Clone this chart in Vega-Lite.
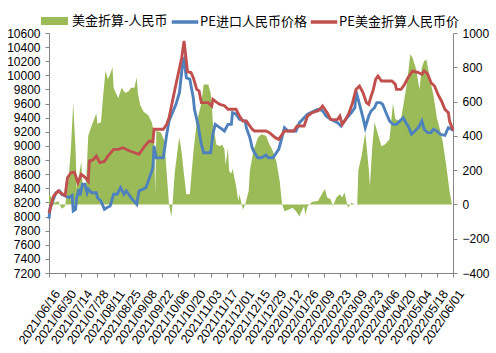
{
"$schema":"https://vega.github.io/schema/vega-lite/v6.json",
"width":404,"height":240,
"autosize":{"type":"none"},
"padding":{"left":49,"top":33,"right":43,"bottom":80},
"background":"white",
"config":{"view":{"stroke":null},"axis":{"grid":false,"domainColor":"#868686","tickColor":"#868686","labelColor":"#000000","labelFont":"Liberation Sans","labelFontSize":12,"tickSize":4,"title":null},"legend":{"labelFont":"Noto Sans CJK SC","labelFontSize":13,"labelColor":"#000000","padding":0,"title":null}},
"datasets":{
"g":[
{"s":"美金折算-人民币","d":"2021-06-16","v":60},{"s":"美金折算-人民币","d":"2021-06-18","v":40},{"s":"美金折算-人民币","d":"2021-06-21","v":10},{"s":"美金折算-人民币","d":"2021-06-24","v":20},{"s":"美金折算-人民币","d":"2021-06-27","v":-25},{"s":"美金折算-人民币","d":"2021-06-30","v":-10},{"s":"美金折算-人民币","d":"2021-07-01","v":50},{"s":"美金折算-人民币","d":"2021-07-03","v":150},{"s":"美金折算-人民币","d":"2021-07-05","v":330},{"s":"美金折算-人民币","d":"2021-07-07","v":590},{"s":"美金折算-人民币","d":"2021-07-09","v":320},{"s":"美金折算-人民币","d":"2021-07-10","v":90},{"s":"美金折算-人民币","d":"2021-07-12","v":170},{"s":"美金折算-人民币","d":"2021-07-14","v":250},{"s":"美金折算-人民币","d":"2021-07-15","v":120},{"s":"美金折算-人民币","d":"2021-07-18","v":100},{"s":"美金折算-人民币","d":"2021-07-20","v":400},{"s":"美金折算-人民币","d":"2021-07-23","v":460},{"s":"美金折算-人民币","d":"2021-07-27","v":530},{"s":"美金折算-人民币","d":"2021-07-28","v":470},{"s":"美金折算-人民币","d":"2021-07-31","v":480},{"s":"美金折算-人民币","d":"2021-08-02","v":640},{"s":"美金折算-人民币","d":"2021-08-04","v":780},{"s":"美金折算-人民币","d":"2021-08-06","v":730},{"s":"美金折算-人民币","d":"2021-08-08","v":760},{"s":"美金折算-人民币","d":"2021-08-10","v":800},{"s":"美金折算-人民币","d":"2021-08-11","v":680},{"s":"美金折算-人民币","d":"2021-08-15","v":620},{"s":"美金折算-人民币","d":"2021-08-18","v":680},{"s":"美金折算-人民币","d":"2021-08-21","v":650},{"s":"美金折算-人民币","d":"2021-08-24","v":660},{"s":"美金折算-人民币","d":"2021-08-26","v":680},{"s":"美金折算-人民币","d":"2021-08-29","v":680},{"s":"美金折算-人民币","d":"2021-08-31","v":740},{"s":"美金折算-人民币","d":"2021-09-01","v":650},{"s":"美金折算-人民币","d":"2021-09-03","v":580},{"s":"美金折算-人民币","d":"2021-09-06","v":540},{"s":"美金折算-人民币","d":"2021-09-10","v":520},{"s":"美金折算-人民币","d":"2021-09-13","v":480},{"s":"美金折算-人民币","d":"2021-09-15","v":420},{"s":"美金折算-人民币","d":"2021-09-16","v":60},{"s":"美金折算-人民币","d":"2021-09-17","v":430},{"s":"美金折算-人民币","d":"2021-09-21","v":420},{"s":"美金折算-人民币","d":"2021-09-24","v":370},{"s":"美金折算-人民币","d":"2021-09-26","v":180},{"s":"美金折算-人民币","d":"2021-09-28","v":0},{"s":"美金折算-人民币","d":"2021-09-30","v":-70},{"s":"美金折算-人民币","d":"2021-10-01","v":0},{"s":"美金折算-人民币","d":"2021-10-03","v":190},{"s":"美金折算-人民币","d":"2021-10-06","v":350},{"s":"美金折算-人民币","d":"2021-10-07","v":390},{"s":"美金折算-人民币","d":"2021-10-09","v":300},{"s":"美金折算-人民币","d":"2021-10-11","v":170},{"s":"美金折算-人民币","d":"2021-10-13","v":60},{"s":"美金折算-人民币","d":"2021-10-16","v":60},{"s":"美金折算-人民币","d":"2021-10-19","v":300},{"s":"美金折算-人民币","d":"2021-10-22","v":480},{"s":"美金折算-人民币","d":"2021-10-26","v":590},{"s":"美金折算-人民币","d":"2021-10-28","v":700},{"s":"美金折算-人民币","d":"2021-11-01","v":700},{"s":"美金折算-人民币","d":"2021-11-03","v":650},{"s":"美金折算-人民币","d":"2021-11-04","v":590},{"s":"美金折算-人民币","d":"2021-11-05","v":470},{"s":"美金折算-人民币","d":"2021-11-08","v":350},{"s":"美金折算-人民币","d":"2021-11-11","v":340},{"s":"美金折算-人民币","d":"2021-11-13","v":350},{"s":"美金折算-人民币","d":"2021-11-15","v":320},{"s":"美金折算-人民币","d":"2021-11-16","v":230},{"s":"美金折算-人民币","d":"2021-11-18","v":330},{"s":"美金折算-人民币","d":"2021-11-19","v":195},{"s":"美金折算-人民币","d":"2021-11-21","v":180},{"s":"美金折算-人民币","d":"2021-11-22","v":210},{"s":"美金折算-人民币","d":"2021-11-25","v":110},{"s":"美金折算-人民币","d":"2021-11-27","v":20},{"s":"美金折算-人民币","d":"2021-11-28","v":60},{"s":"美金折算-人民币","d":"2021-11-30","v":0},{"s":"美金折算-人民币","d":"2021-12-01","v":-30},{"s":"美金折算-人民币","d":"2021-12-03","v":0},{"s":"美金折算-人民币","d":"2021-12-06","v":80},{"s":"美金折算-人民币","d":"2021-12-07","v":195},{"s":"美金折算-人民币","d":"2021-12-10","v":310},{"s":"美金折算-人民币","d":"2021-12-14","v":390},{"s":"美金折算-人民币","d":"2021-12-17","v":410},{"s":"美金折算-人民币","d":"2021-12-21","v":400},{"s":"美金折算-人民币","d":"2021-12-24","v":350},{"s":"美金折算-人民币","d":"2021-12-27","v":310},{"s":"美金折算-人民币","d":"2021-12-30","v":250},{"s":"美金折算-人民币","d":"2022-01-02","v":130},{"s":"美金折算-人民币","d":"2022-01-03","v":60},{"s":"美金折算-人民币","d":"2022-01-04","v":0},{"s":"美金折算-人民币","d":"2022-01-06","v":-40},{"s":"美金折算-人民币","d":"2022-01-10","v":-30},{"s":"美金折算-人民币","d":"2022-01-13","v":-20},{"s":"美金折算-人民币","d":"2022-01-16","v":-40},{"s":"美金折算-人民币","d":"2022-01-19","v":-70},{"s":"美金折算-人民币","d":"2022-01-20","v":-50},{"s":"美金折算-人民币","d":"2022-01-23","v":-10},{"s":"美金折算-人民币","d":"2022-01-24","v":-60},{"s":"美金折算-人民币","d":"2022-01-26","v":-10},{"s":"美金折算-人民币","d":"2022-01-30","v":15},{"s":"美金折算-人民币","d":"2022-02-04","v":20},{"s":"美金折算-人民币","d":"2022-02-10","v":90},{"s":"美金折算-人民币","d":"2022-02-12","v":40},{"s":"美金折算-人民币","d":"2022-02-15","v":30},{"s":"美金折算-人民币","d":"2022-02-17","v":-10},{"s":"美金折算-人民币","d":"2022-02-20","v":40},{"s":"美金折算-人民币","d":"2022-02-23","v":60},{"s":"美金折算-人民币","d":"2022-02-25","v":40},{"s":"美金折算-人民币","d":"2022-02-27","v":70},{"s":"美金折算-人民币","d":"2022-03-02","v":-20},{"s":"美金折算-人民币","d":"2022-03-05","v":10},{"s":"美金折算-人民币","d":"2022-03-08","v":0},{"s":"美金折算-人民币","d":"2022-03-10","v":0},{"s":"美金折算-人民币","d":"2022-03-11","v":200},{"s":"美金折算-人民币","d":"2022-03-14","v":290},{"s":"美金折算-人民币","d":"2022-03-17","v":420},{"s":"美金折算-人民币","d":"2022-03-20","v":210},{"s":"美金折算-人民币","d":"2022-03-21","v":107},{"s":"美金折算-人民币","d":"2022-03-23","v":330},{"s":"美金折算-人民币","d":"2022-03-25","v":480},{"s":"美金折算-人民币","d":"2022-03-28","v":410},{"s":"美金折算-人民币","d":"2022-03-31","v":340},{"s":"美金折算-人民币","d":"2022-04-03","v":350},{"s":"美金折算-人民币","d":"2022-04-07","v":380},{"s":"美金折算-人民币","d":"2022-04-10","v":590},{"s":"美金折算-人民币","d":"2022-04-12","v":500},{"s":"美金折算-人民币","d":"2022-04-14","v":490},{"s":"美金折算-人民币","d":"2022-04-17","v":500},{"s":"美金折算-人民币","d":"2022-04-20","v":620},{"s":"美金折算-人民币","d":"2022-04-22","v":700},{"s":"美金折算-人民币","d":"2022-04-25","v":876},{"s":"美金折算-人民币","d":"2022-04-27","v":856},{"s":"美金折算-人民币","d":"2022-04-30","v":790},{"s":"美金折算-人民币","d":"2022-05-03","v":670},{"s":"美金折算-人民币","d":"2022-05-05","v":800},{"s":"美金折算-人民币","d":"2022-05-07","v":837},{"s":"美金折算-人民币","d":"2022-05-09","v":845},{"s":"美金折算-人民币","d":"2022-05-12","v":730},{"s":"美金折算-人民币","d":"2022-05-15","v":640},{"s":"美金折算-人民币","d":"2022-05-18","v":506},{"s":"美金折算-人民币","d":"2022-05-21","v":428},{"s":"美金折算-人民币","d":"2022-05-23","v":370},{"s":"美金折算-人民币","d":"2022-05-26","v":234},{"s":"美金折算-人民币","d":"2022-05-29","v":78},{"s":"美金折算-人民币","d":"2022-05-31","v":0}
],
"l":[
{"s":"PE进口人民币价格","d":"2021-06-16","v":7970},{"s":"PE进口人民币价格","d":"2021-06-17","v":8125},{"s":"PE进口人民币价格","d":"2021-06-22","v":8337},{"s":"PE进口人民币价格","d":"2021-06-25","v":8362},{"s":"PE进口人民币价格","d":"2021-06-27","v":8315},{"s":"PE进口人民币价格","d":"2021-06-30","v":8290},{"s":"PE进口人民币价格","d":"2021-07-03","v":8267},{"s":"PE进口人民币价格","d":"2021-07-06","v":8300},{"s":"PE进口人民币价格","d":"2021-07-07","v":8078},{"s":"PE进口人民币价格","d":"2021-07-09","v":8100},{"s":"PE进口人民币价格","d":"2021-07-10","v":8267},{"s":"PE进口人民币价格","d":"2021-07-12","v":8390},{"s":"PE进口人民币价格","d":"2021-07-13","v":8300},{"s":"PE进口人民币价格","d":"2021-07-15","v":8457},{"s":"PE进口人民币价格","d":"2021-07-17","v":8457},{"s":"PE进口人民币价格","d":"2021-07-19","v":8337},{"s":"PE进口人民币价格","d":"2021-07-20","v":8390},{"s":"PE进口人民币价格","d":"2021-07-23","v":8337},{"s":"PE进口人民币价格","d":"2021-07-27","v":8337},{"s":"PE进口人民币价格","d":"2021-07-28","v":8267},{"s":"PE进口人民币价格","d":"2021-07-31","v":8220},{"s":"PE进口人民币价格","d":"2021-08-03","v":8102},{"s":"PE进口人民币价格","d":"2021-08-05","v":8125},{"s":"PE进口人民币价格","d":"2021-08-08","v":8150},{"s":"PE进口人民币价格","d":"2021-08-11","v":8315},{"s":"PE进口人民币价格","d":"2021-08-14","v":8315},{"s":"PE进口人民币价格","d":"2021-08-17","v":8408},{"s":"PE进口人民币价格","d":"2021-08-20","v":8315},{"s":"PE进口人民币价格","d":"2021-08-22","v":8362},{"s":"PE进口人民币价格","d":"2021-08-26","v":8267},{"s":"PE进口人民币价格","d":"2021-08-31","v":8173},{"s":"PE进口人民币价格","d":"2021-09-02","v":8362},{"s":"PE进口人民币价格","d":"2021-09-08","v":8408},{"s":"PE进口人民币价格","d":"2021-09-11","v":8550},{"s":"PE进口人民币价格","d":"2021-09-14","v":8692},{"s":"PE进口人民币价格","d":"2021-09-15","v":9000},{"s":"PE进口人民币价格","d":"2021-09-17","v":8833},{"s":"PE进口人民币价格","d":"2021-09-23","v":8833},{"s":"PE进口人民币价格","d":"2021-09-26","v":9165},{"s":"PE进口人民币价格","d":"2021-09-28","v":9353},{"s":"PE进口人民币价格","d":"2021-10-04","v":9590},{"s":"PE进口人民币价格","d":"2021-10-07","v":9755},{"s":"PE进口人民币价格","d":"2021-10-10","v":10203},{"s":"PE进口人民币价格","d":"2021-10-11","v":10230},{"s":"PE进口人民币价格","d":"2021-10-13","v":9967},{"s":"PE进口人民币价格","d":"2021-10-16","v":9944},{"s":"PE进口人民币价格","d":"2021-10-19","v":9684},{"s":"PE进口人民币价格","d":"2021-10-20","v":9519},{"s":"PE进口人民币价格","d":"2021-10-23","v":9306},{"s":"PE进口人民币价格","d":"2021-10-26","v":9023},{"s":"PE进口人民币价格","d":"2021-10-28","v":8904},{"s":"PE进口人民币价格","d":"2021-11-03","v":8904},{"s":"PE进口人民币价格","d":"2021-11-05","v":9165},{"s":"PE进口人民币价格","d":"2021-11-07","v":9306},{"s":"PE进口人民币价格","d":"2021-11-11","v":9259},{"s":"PE进口人民币价格","d":"2021-11-15","v":9212},{"s":"PE进口人民币价格","d":"2021-11-18","v":9306},{"s":"PE进口人民币价格","d":"2021-11-21","v":9306},{"s":"PE进口人民币价格","d":"2021-11-22","v":9471},{"s":"PE进口人民币价格","d":"2021-11-25","v":9450},{"s":"PE进口人民币价格","d":"2021-11-28","v":9377},{"s":"PE进口人民币价格","d":"2021-12-03","v":9350},{"s":"PE进口人民币价格","d":"2021-12-04","v":9259},{"s":"PE进口人民币价格","d":"2021-12-07","v":9117},{"s":"PE进口人民币价格","d":"2021-12-09","v":8975},{"s":"PE进口人民币价格","d":"2021-12-11","v":8904},{"s":"PE进口人民币价格","d":"2021-12-14","v":8833},{"s":"PE进口人民币价格","d":"2021-12-17","v":8833},{"s":"PE进口人民币价格","d":"2021-12-21","v":8870},{"s":"PE进口人民币价格","d":"2021-12-23","v":8833},{"s":"PE进口人民币价格","d":"2021-12-27","v":8833},{"s":"PE进口人民币价格","d":"2022-01-01","v":8952},{"s":"PE进口人民币价格","d":"2022-01-03","v":9070},{"s":"PE进口人民币价格","d":"2022-01-06","v":9259},{"s":"PE进口人民币价格","d":"2022-01-09","v":9212},{"s":"PE进口人民币价格","d":"2022-01-16","v":9212},{"s":"PE进口人民币价格","d":"2022-01-19","v":9330},{"s":"PE进口人民币价格","d":"2022-01-26","v":9448},{"s":"PE进口人民币价格","d":"2022-02-04","v":9519},{"s":"PE进口人民币价格","d":"2022-02-08","v":9500},{"s":"PE进口人民币价格","d":"2022-02-11","v":9424},{"s":"PE进口人民币价格","d":"2022-02-15","v":9377},{"s":"PE进口人民币价格","d":"2022-02-21","v":9330},{"s":"PE进口人民币价格","d":"2022-02-24","v":9283},{"s":"PE进口人民币价格","d":"2022-02-28","v":9377},{"s":"PE进口人民币价格","d":"2022-03-05","v":9471},{"s":"PE进口人民币价格","d":"2022-03-08","v":9542},{"s":"PE进口人民币价格","d":"2022-03-09","v":9778},{"s":"PE进口人民币价格","d":"2022-03-12","v":9590},{"s":"PE进口人民币价格","d":"2022-03-15","v":9400},{"s":"PE进口人民币价格","d":"2022-03-17","v":9259},{"s":"PE进口人民币价格","d":"2022-03-20","v":9424},{"s":"PE进口人民币价格","d":"2022-03-22","v":9495},{"s":"PE进口人民币价格","d":"2022-03-25","v":9542},{"s":"PE进口人民币价格","d":"2022-03-27","v":9613},{"s":"PE进口人民币价格","d":"2022-03-30","v":9613},{"s":"PE进口人民币价格","d":"2022-04-01","v":9590},{"s":"PE进口人民币价格","d":"2022-04-04","v":9471},{"s":"PE进口人民币价格","d":"2022-04-07","v":9353},{"s":"PE进口人民币价格","d":"2022-04-10","v":9306},{"s":"PE进口人民币价格","d":"2022-04-13","v":9306},{"s":"PE进口人民币价格","d":"2022-04-16","v":9353},{"s":"PE进口人民币价格","d":"2022-04-19","v":9400},{"s":"PE进口人民币价格","d":"2022-04-22","v":9306},{"s":"PE进口人民币价格","d":"2022-04-23","v":9290},{"s":"PE进口人民币价格","d":"2022-04-26","v":9165},{"s":"PE进口人民币价格","d":"2022-04-29","v":9212},{"s":"PE进口人民币价格","d":"2022-05-02","v":9259},{"s":"PE进口人民币价格","d":"2022-05-05","v":9353},{"s":"PE进口人民币价格","d":"2022-05-07","v":9236},{"s":"PE进口人民币价格","d":"2022-05-10","v":9188},{"s":"PE进口人民币价格","d":"2022-05-13","v":9188},{"s":"PE进口人民币价格","d":"2022-05-15","v":9236},{"s":"PE进口人民币价格","d":"2022-05-18","v":9212},{"s":"PE进口人民币价格","d":"2022-05-21","v":9165},{"s":"PE进口人民币价格","d":"2022-05-25","v":9150},{"s":"PE进口人民币价格","d":"2022-05-28","v":9259},{"s":"PE进口人民币价格","d":"2022-05-31","v":9236},{"s":"PE进口人民币价格","d":"2022-06-01","v":9212},
{"s":"PE美金折算人民币价","d":"2021-06-16","v":8050},{"s":"PE美金折算人民币价","d":"2021-06-20","v":8290},{"s":"PE美金折算人民币价","d":"2021-06-24","v":8362},{"s":"PE美金折算人民币价","d":"2021-06-28","v":8315},{"s":"PE美金折算人民币价","d":"2021-06-30","v":8300},{"s":"PE美金折算人民币价","d":"2021-07-02","v":8550},{"s":"PE美金折算人民币价","d":"2021-07-05","v":8621},{"s":"PE美金折算人民币价","d":"2021-07-08","v":8630},{"s":"PE美金折算人民币价","d":"2021-07-11","v":8480},{"s":"PE美金折算人民币价","d":"2021-07-14","v":8598},{"s":"PE美金折算人民币价","d":"2021-07-17","v":8560},{"s":"PE美金折算人民币价","d":"2021-07-20","v":8500},{"s":"PE美金折算人民币价","d":"2021-07-21","v":8787},{"s":"PE美金折算人民币价","d":"2021-07-24","v":8800},{"s":"PE美金折算人民币价","d":"2021-07-27","v":8857},{"s":"PE美金折算人民币价","d":"2021-07-30","v":8763},{"s":"PE美金折算人民币价","d":"2021-08-03","v":8780},{"s":"PE美金折算人民币价","d":"2021-08-06","v":8857},{"s":"PE美金折算人民币价","d":"2021-08-11","v":8952},{"s":"PE美金折算人民币价","d":"2021-08-15","v":8952},{"s":"PE美金折算人民币价","d":"2021-08-19","v":8975},{"s":"PE美金折算人民币价","d":"2021-08-25","v":8928},{"s":"PE美金折算人民币价","d":"2021-09-02","v":8882},{"s":"PE美金折算人民币价","d":"2021-09-07","v":9000},{"s":"PE美金折算人民币价","d":"2021-09-11","v":9070},{"s":"PE美金折算人民币价","d":"2021-09-14","v":9060},{"s":"PE美金折算人民币价","d":"2021-09-15","v":9236},{"s":"PE美金折算人民币价","d":"2021-09-23","v":9236},{"s":"PE美金折算人民币价","d":"2021-09-26","v":9306},{"s":"PE美金折算人民币价","d":"2021-09-28","v":9400},{"s":"PE美金折算人民币价","d":"2021-10-04","v":9873},{"s":"PE美金折算人民币价","d":"2021-10-09","v":10250},{"s":"PE美金折算人民币价","d":"2021-10-11","v":10487},{"s":"PE美金折算人民币价","d":"2021-10-14","v":10050},{"s":"PE美金折算人民币价","d":"2021-10-17","v":10040},{"s":"PE美金折算人民币价","d":"2021-10-19","v":9967},{"s":"PE美金折算人民币价","d":"2021-10-22","v":9802},{"s":"PE美金折算人民币价","d":"2021-10-24","v":9780},{"s":"PE美金折算人民币价","d":"2021-10-26","v":9613},{"s":"PE美金折算人民币价","d":"2021-11-01","v":9613},{"s":"PE美金折算人民币价","d":"2021-11-04","v":9566},{"s":"PE美金折算人民币价","d":"2021-11-05","v":9660},{"s":"PE美金折算人民币价","d":"2021-11-08","v":9620},{"s":"PE美金折算人民币价","d":"2021-11-11","v":9590},{"s":"PE美金折算人民币价","d":"2021-11-15","v":9570},{"s":"PE美金折算人民币价","d":"2021-11-18","v":9519},{"s":"PE美金折算人民币价","d":"2021-11-25","v":9519},{"s":"PE美金折算人民币价","d":"2021-11-28","v":9424},{"s":"PE美金折算人民币价","d":"2021-12-01","v":9353},{"s":"PE美金折算人民币价","d":"2021-12-04","v":9353},{"s":"PE美金折算人民币价","d":"2021-12-09","v":9236},{"s":"PE美金折算人民币价","d":"2021-12-11","v":9212},{"s":"PE美金折算人民币价","d":"2021-12-21","v":9212},{"s":"PE美金折算人民币价","d":"2021-12-24","v":9188},{"s":"PE美金折算人民币价","d":"2021-12-29","v":9117},{"s":"PE美金折算人民币价","d":"2022-01-01","v":9094},{"s":"PE美金折算人民币价","d":"2022-01-03","v":9140},{"s":"PE美金折算人民币价","d":"2022-01-06","v":9212},{"s":"PE美金折算人民币价","d":"2022-01-14","v":9212},{"s":"PE美金折算人民币价","d":"2022-01-17","v":9283},{"s":"PE美金折算人民币价","d":"2022-01-23","v":9283},{"s":"PE美金折算人民币价","d":"2022-01-26","v":9424},{"s":"PE美金折算人民币价","d":"2022-01-30","v":9471},{"s":"PE美金折算人民币价","d":"2022-02-04","v":9500},{"s":"PE美金折算人民币价","d":"2022-02-07","v":9542},{"s":"PE美金折算人民币价","d":"2022-02-08","v":9566},{"s":"PE美金折算人民币价","d":"2022-02-10","v":9520},{"s":"PE美金折算人民币价","d":"2022-02-12","v":9471},{"s":"PE美金折算人民币价","d":"2022-02-15","v":9377},{"s":"PE美金折算人民币价","d":"2022-02-18","v":9370},{"s":"PE美金折算人民币价","d":"2022-02-21","v":9377},{"s":"PE美金折算人民币价","d":"2022-02-23","v":9424},{"s":"PE美金折算人民币价","d":"2022-02-25","v":9306},{"s":"PE美金折算人民币价","d":"2022-02-28","v":9377},{"s":"PE美金折算人民币价","d":"2022-03-03","v":9471},{"s":"PE美金折算人民币价","d":"2022-03-06","v":9613},{"s":"PE美金折算人民币价","d":"2022-03-09","v":9802},{"s":"PE美金折算人民币价","d":"2022-03-12","v":9849},{"s":"PE美金折算人民币价","d":"2022-03-15","v":9755},{"s":"PE美金折算人民币价","d":"2022-03-18","v":9613},{"s":"PE美金折算人民币价","d":"2022-03-20","v":9590},{"s":"PE美金折算人民币价","d":"2022-03-22","v":9700},{"s":"PE美金折算人民币价","d":"2022-03-24","v":9802},{"s":"PE美金折算人民币价","d":"2022-03-26","v":9944},{"s":"PE美金折算人民币价","d":"2022-03-28","v":9991},{"s":"PE美金折算人民币价","d":"2022-03-31","v":9920},{"s":"PE美金折算人民币价","d":"2022-04-09","v":9920},{"s":"PE美金折算人民币价","d":"2022-04-12","v":9873},{"s":"PE美金折算人民币价","d":"2022-04-13","v":9802},{"s":"PE美金折算人民币价","d":"2022-04-17","v":9802},{"s":"PE美金折算人民币价","d":"2022-04-20","v":9870},{"s":"PE美金折算人民币价","d":"2022-04-23","v":9967},{"s":"PE美金折算人民币价","d":"2022-04-27","v":10062},{"s":"PE美金折算人民币价","d":"2022-05-02","v":10040},{"s":"PE美金折算人民币价","d":"2022-05-05","v":10015},{"s":"PE美金折算人民币价","d":"2022-05-07","v":10062},{"s":"PE美金折算人民币价","d":"2022-05-10","v":10020},{"s":"PE美金折算人民币价","d":"2022-05-13","v":9896},{"s":"PE美金折算人民币价","d":"2022-05-16","v":9849},{"s":"PE美金折算人民币价","d":"2022-05-19","v":9731},{"s":"PE美金折算人民币价","d":"2022-05-22","v":9637},{"s":"PE美金折算人民币价","d":"2022-05-25","v":9519},{"s":"PE美金折算人民币价","d":"2022-05-28","v":9471},{"s":"PE美金折算人民币价","d":"2022-05-29","v":9353},{"s":"PE美金折算人民币价","d":"2022-06-01","v":9222}
]},
"encoding":{
 "x":{"field":"d","type":"temporal","scale":{"type":"utc","domain":[{"year":2021,"month":6,"date":16,"utc":true},{"year":2022,"month":6,"date":1,"utc":true}]},
  "axis":{"values":[{"year":2021,"month":6,"date":16,"utc":true},{"year":2021,"month":6,"date":30,"utc":true},{"year":2021,"month":7,"date":14,"utc":true},{"year":2021,"month":7,"date":28,"utc":true},{"year":2021,"month":8,"date":11,"utc":true},{"year":2021,"month":8,"date":25,"utc":true},{"year":2021,"month":9,"date":8,"utc":true},{"year":2021,"month":9,"date":22,"utc":true},{"year":2021,"month":10,"date":6,"utc":true},{"year":2021,"month":10,"date":20,"utc":true},{"year":2021,"month":11,"date":3,"utc":true},{"year":2021,"month":11,"date":17,"utc":true},{"year":2021,"month":12,"date":1,"utc":true},{"year":2021,"month":12,"date":15,"utc":true},{"year":2021,"month":12,"date":29,"utc":true},{"year":2022,"month":1,"date":12,"utc":true},{"year":2022,"month":1,"date":26,"utc":true},{"year":2022,"month":2,"date":9,"utc":true},{"year":2022,"month":2,"date":23,"utc":true},{"year":2022,"month":3,"date":9,"utc":true},{"year":2022,"month":3,"date":23,"utc":true},{"year":2022,"month":4,"date":6,"utc":true},{"year":2022,"month":4,"date":20,"utc":true},{"year":2022,"month":5,"date":4,"utc":true},{"year":2022,"month":5,"date":18,"utc":true},{"year":2022,"month":6,"date":1,"utc":true}],
   "format":"%Y/%m/%d","labelAngle":-55,"labelAlign":"right","labelBaseline":"middle","labelOffset":8,"labelPadding":14,"labelFontSize":12.5,"labelOverlap":false,"labelBound":false,"labelFlush":false}}
},
"layer":[
{"data":{"name":"g"},
 "mark":{"type":"area","interpolate":"linear"},
 "encoding":{
  "y":{"field":"v","type":"quantitative","stack":null,"scale":{"domain":[-400,1000],"nice":false},
   "axis":{"orient":"right","values":[-400,-200,0,200,400,600,800,1000],"labelPadding":5,"format":"d"}},
  "fill":{"field":"s","type":"nominal","scale":{"range":["#9BBB59"]},
   "legend":{"orient":"none","legendX":-8,"legendY":-25.5,"symbolType":"M-1,-0.3H1V0.3H-1Z","symbolSize":729,"symbolStrokeWidth":0,"labelOffset":4}}
 }},
{"data":{"name":"l"},
 "mark":{"type":"line","strokeWidth":2.9,"interpolate":"linear"},
 "encoding":{
  "y":{"field":"v","type":"quantitative","scale":{"domain":[7200,10600],"nice":false,"zero":false},
   "axis":{"orient":"left","values":[7200,7400,7600,7800,8000,8200,8400,8600,8800,9000,9200,9400,9600,9800,10000,10200,10400,10600],"labelPadding":5,"format":"d"}},
  "stroke":{"field":"s","type":"nominal","scale":{"domain":["PE进口人民币价格","PE美金折算人民币价"],"range":["#4F81BD","#C0504D"]},
   "legend":{"orient":"none","legendX":121,"legendY":-26,"direction":"horizontal","symbolType":"stroke","symbolSize":702,"symbolStrokeWidth":3.5,"labelOffset":0,"columnPadding":-4}}
 }}
],
"resolve":{"scale":{"y":"independent"}}
}
